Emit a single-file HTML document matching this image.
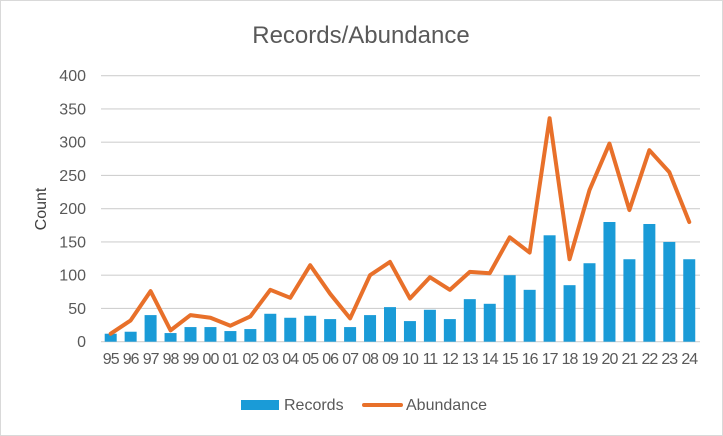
<!DOCTYPE html>
<html><head><meta charset="utf-8"><style>
html,body{margin:0;padding:0;background:#fff}
svg{display:block;font-family:"Liberation Sans",Arial,sans-serif}
</style></head><body>
<svg id="c" width="723" height="436" viewBox="0 0 723 436" xmlns="http://www.w3.org/2000/svg">
<rect x="0.5" y="0.5" width="722" height="435" fill="#fff" stroke="#d9d9d9"/>
<text x="361" y="43" text-anchor="middle" font-size="24" fill="#595959">Records/Abundance</text>
<text transform="translate(46,209) rotate(-90)" text-anchor="middle" font-size="16" fill="#404040">Count</text>
<g id="g"></g>
<rect x="241" y="400" width="38" height="10" fill="#1a9bd7"/>
<text x="284" y="410" font-size="16" fill="#595959">Records</text>
<line x1="364" y1="405" x2="401" y2="405" stroke="#e8702a" stroke-width="4" stroke-linecap="round"/>
<text x="406" y="410" font-size="16" fill="#595959">Abundance</text>
</svg>
<script>
var rec=[12,15,40,13,22,22,16,19,42,36,39,34,22,40,52,31,48,34,64,57,100,78,160,85,118,180,124,177,150,124];
var ab=[12,32,76,17,40,36,24,38,78,66,115,72,35,100,120,65,97,78,105,103,157,134,336,124,228,298,198,288,255,180];
var lab=["95","96","97","98","99","00","01","02","03","04","05","06","07","08","09","10","11","12","13","14","15","16","17","18","19","20","21","22","23","24"];
var y0=341.7,k=266/400,x0=110.7,dx=19.95,s="";
for(var v=0;v<=400;v+=50){var y=y0-v*k;s+='<line x1="101" x2="700" y1="'+y+'" y2="'+y+'" stroke="#d0d0d0" stroke-width="1.2"/>';
s+='<text x="86" y="'+(y+5.5)+'" text-anchor="end" font-size="16" fill="#595959">'+v+'</text>';}
var pts=[];
for(var i=0;i<30;i++){var x=x0+i*dx;s+='<rect x="'+(x-6)+'" y="'+(y0-rec[i]*k)+'" width="12" height="'+rec[i]*k+'" fill="#1a9bd7"/>';
s+='<text x="'+x+'" y="364" text-anchor="middle" font-size="16" letter-spacing="-1" fill="#595959">'+lab[i]+'</text>';
pts.push(x+','+(y0-ab[i]*k));}
s+='<polyline points="'+pts.join(' ')+'" fill="none" stroke="#e8702a" stroke-width="4" stroke-linejoin="round" stroke-linecap="round"/>';
document.getElementById('g').innerHTML=s;
</script>
</body></html>
